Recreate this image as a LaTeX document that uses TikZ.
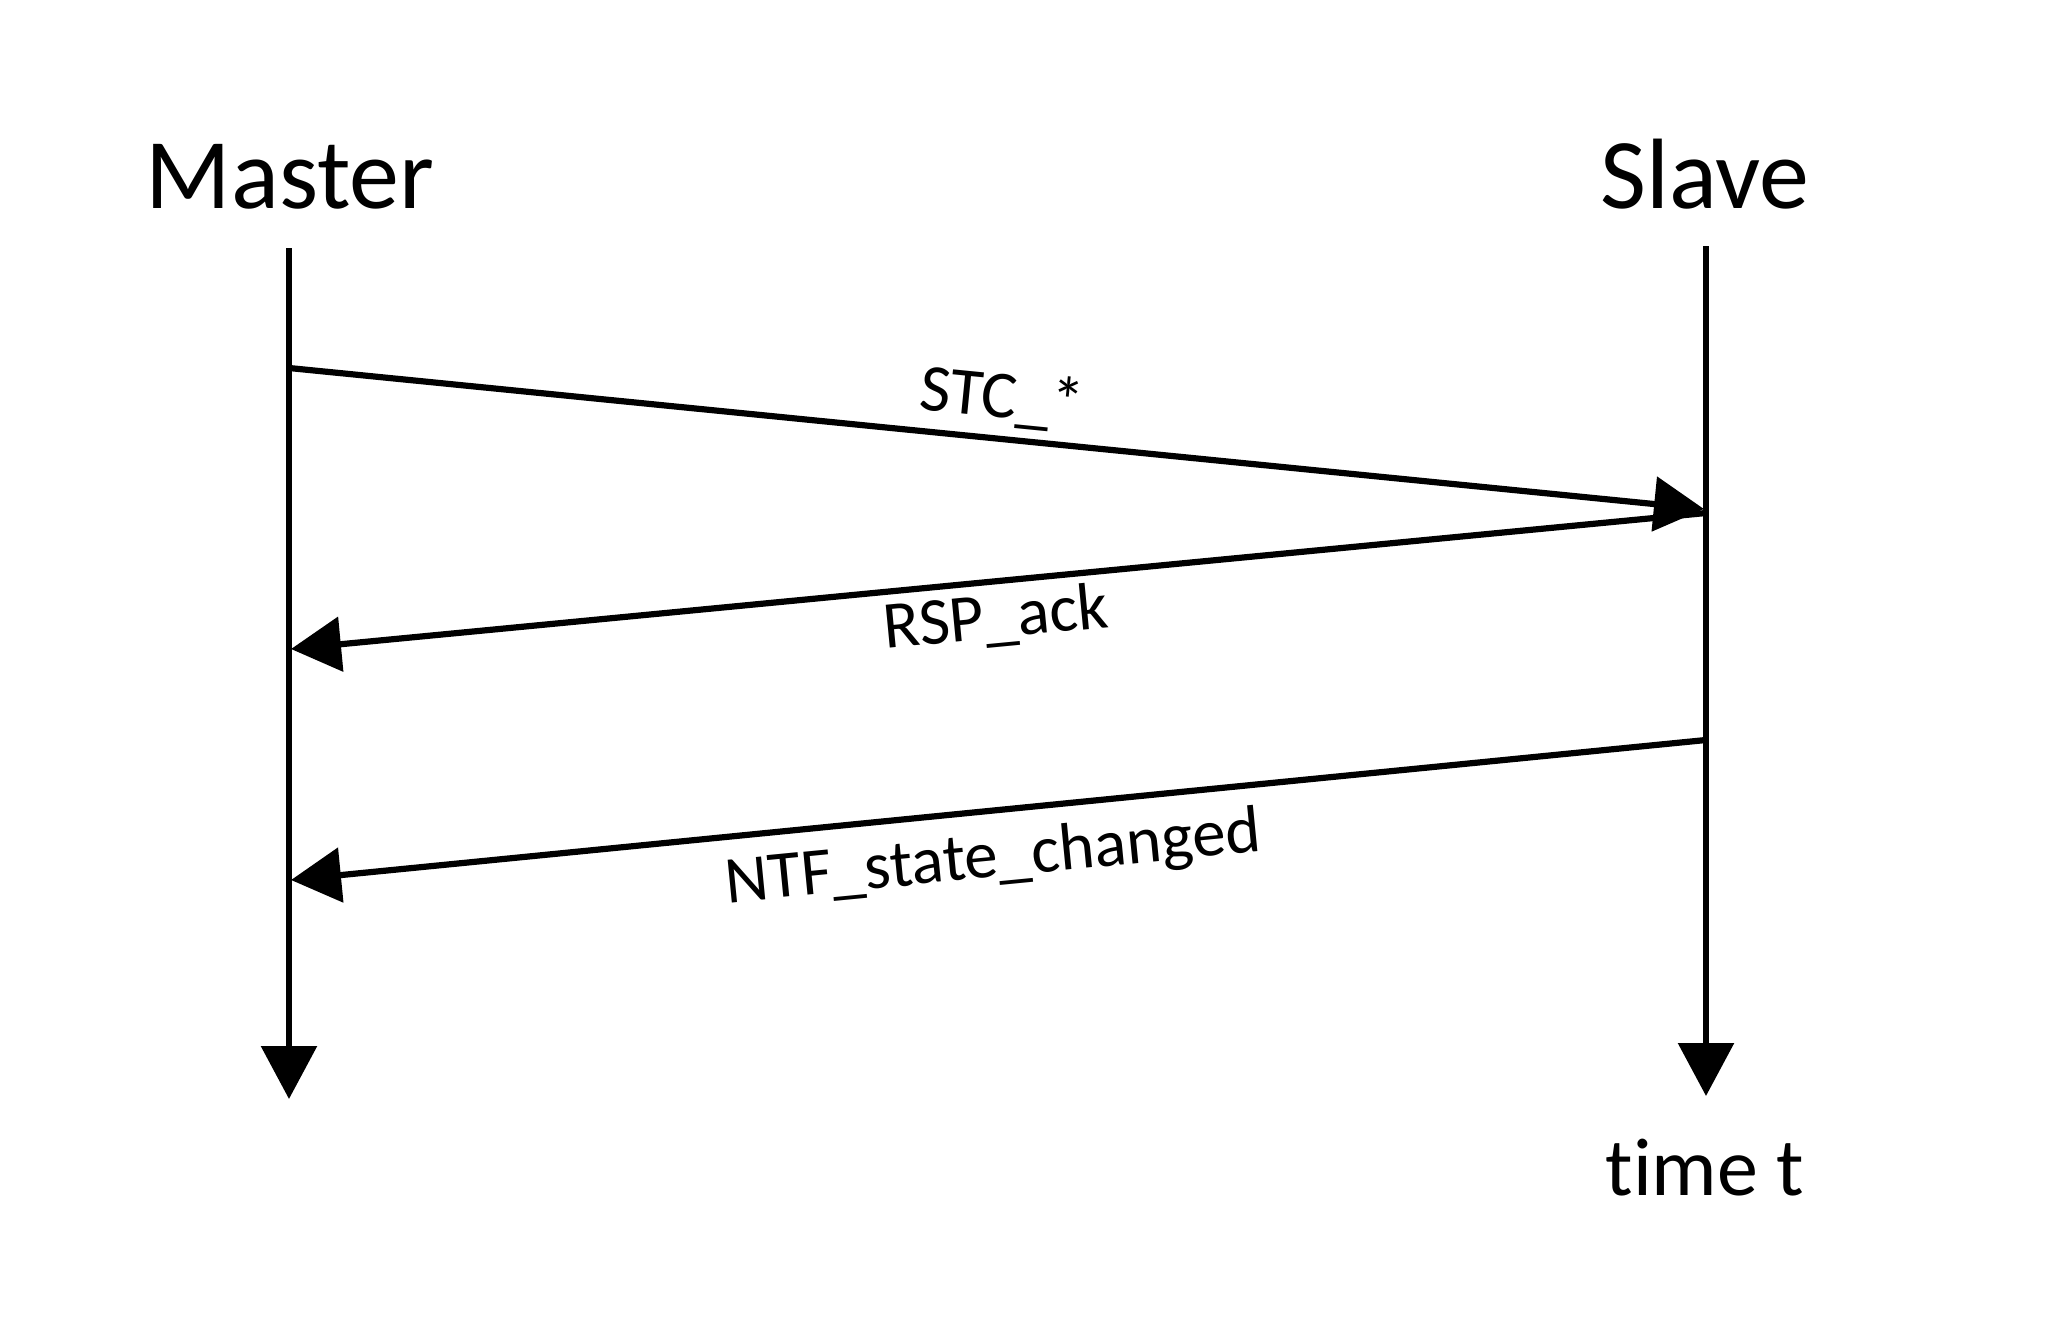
\documentclass[tikz,border=0pt]{standalone}
\usepackage{fontspec}
\setmainfont{Carlito}[Ligatures={NoCommon}]
\usetikzlibrary{arrows.meta}
\begin{document}
\begin{tikzpicture}[x=0.5pt,y=-0.5pt,
  lifeline/.style={line width=3pt,-{Triangle[length=26.5pt,width=27.5pt]}},
  msg/.style={line width=3.1pt,-{Triangle[length=25pt,width=27pt]}},
  title/.style={inner sep=0pt,anchor=base,font=\fontsize{50}{56}\selectfont},
  lbl/.style={inner sep=0pt,anchor=base,font=\fontsize{33.5}{40}\selectfont}]
\useasboundingbox[fill=white] (0,0) rectangle (2057,1317);
% titles
\node[title] (master) at (290,208) {Master};
\node[title] (slave) at (1705,208) {Slave};
\node[title,font=\fontsize{41}{48}\selectfont] (time) at (1705,1195) {time t};
% lifeline end points
\coordinate (m0) at (289,248);
\coordinate (m1) at (289,1099);
\coordinate (s0) at (1706,246);
\coordinate (s1) at (1706,1096);
\draw[lifeline] (m0) -- (m1);
\draw[lifeline] (s0) -- (s1);
% messages
\coordinate (stcA) at (289,368);
\coordinate (stcB) at (1704,509);
\coordinate (rspA) at (1706,513);
\coordinate (rspB) at (291,649);
\coordinate (ntfA) at (1706,740);
\coordinate (ntfB) at (291,880);
\draw[msg] (stcA) -- (stcB);
\draw[msg] (rspA) -- (rspB);
\draw[msg] (ntfA) -- (ntfB);
% labels
\node[lbl,rotate=-5.69] (stc) at (1000,418) {STC\_*};
\node[lbl,rotate=5.45] (rsp) at (998,638) {RSP\_ack};
\node[lbl,rotate=5.57] (ntf) at (995,877) {NTF\_state\_changed};
\end{tikzpicture}
\end{document}
